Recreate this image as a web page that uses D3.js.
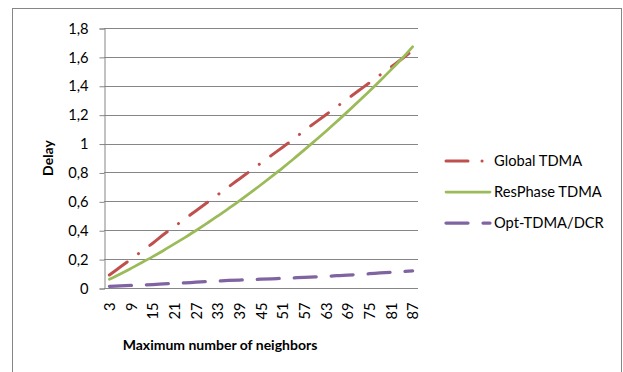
<!DOCTYPE html>
<html>
<head>
<meta charset="utf-8">
<script src="https://cdn.jsdelivr.net/npm/d3@7"></script>
<style>
  html, body { margin: 0; padding: 0; background: #ffffff; }
  svg { display: block; }
  text { font-family: Lato, "Open Sans", "Liberation Sans", sans-serif; fill: #000; }
</style>
</head>
<body>
<svg id="chart" width="623" height="372"></svg>
<script>
// Maximum number of neighbors (x categories)
const neighbors = [3, 6, 9, 12, 15, 18, 21, 24, 27, 30, 33, 36, 39, 42, 45, 48, 51, 54, 57, 60, 63, 66, 69, 72, 75, 78, 81, 84, 87];

// Delay per scheme
const globalTDMA = [0.09, 0.145, 0.20, 0.255, 0.31, 0.37, 0.425, 0.48, 0.535, 0.59, 0.645, 0.70, 0.755, 0.81, 0.865, 0.92, 0.975, 1.03, 1.09, 1.145, 1.20, 1.255, 1.31, 1.365, 1.42, 1.475, 1.53, 1.585, 1.645];
const resPhaseTDMA = [0.06, 0.097, 0.136, 0.176, 0.217, 0.26, 0.305, 0.351, 0.398, 0.447, 0.498, 0.55, 0.603, 0.658, 0.715, 0.773, 0.832, 0.893, 0.956, 1.02, 1.085, 1.152, 1.221, 1.291, 1.362, 1.435, 1.51, 1.587, 1.67];
const optTDMADCR = [0.012, 0.015, 0.018, 0.021, 0.024, 0.028, 0.032, 0.036, 0.040, 0.044, 0.048, 0.052, 0.055, 0.058, 0.061, 0.064, 0.067, 0.070, 0.073, 0.077, 0.081, 0.085, 0.089, 0.094, 0.099, 0.104, 0.109, 0.114, 0.118];

const yTicks = [0, 0.2, 0.4, 0.6, 0.8, 1, 1.2, 1.4, 1.6, 1.8];

const series = [
  { name: "Global TDMA", values: globalTDMA, color: "#C0504D", dash: "22,14,0.1,14", width: 3 },
  { name: "ResPhase TDMA", values: resPhaseTDMA, color: "#9BBB59", dash: null, width: 2.75 },
  { name: "Opt-TDMA/DCR", values: optTDMADCR, color: "#8064A2", dash: "22,15", width: 3.25 }
];

const svg = d3.select("#chart");
const plot = { left: 104, right: 418, top: 28, bottom: 288 };

// Outer chart frame
svg.append("rect")
  .attr("x", 12.5).attr("y", 8.5)
  .attr("width", 609).attr("height", 400)
  .attr("fill", "none").attr("stroke", "#868686").attr("stroke-width", 1);

const x = d3.scalePoint().domain(neighbors).range([plot.left, plot.right]).padding(0.5);
const y = d3.scaleLinear().domain([0, 1.8]).range([plot.bottom, plot.top]);

const fmt = d => String(d).replace(".", ",");

// Horizontal gridlines
svg.append("g")
  .selectAll("line")
  .data(yTicks.filter(d => d > 0))
  .join("line")
  .attr("x1", plot.left).attr("x2", plot.right)
  .attr("y1", d => Math.round(y(d)) + 0.5).attr("y2", d => Math.round(y(d)) + 0.5)
  .attr("stroke", "#868686").attr("stroke-width", 1);

// Y axis
const yAxis = svg.append("g")
  .attr("transform", `translate(${plot.left + 0.5},0.5)`)
  .call(d3.axisLeft(y).tickValues(yTicks).tickFormat(fmt).tickSize(5).tickPadding(11));
yAxis.select(".domain").attr("stroke", "#868686");
yAxis.selectAll(".tick line").attr("stroke", "#868686");
yAxis.selectAll(".tick text")
  .attr("font-family", "Lato, 'Open Sans', sans-serif")
  .attr("font-size", 14.7).attr("fill", "#000");

// X axis (category labels every second value)
const xAxis = svg.append("g")
  .attr("transform", `translate(0,${plot.bottom + 0.5})`)
  .call(d3.axisBottom(x)
    .tickValues(neighbors.filter((d, i) => i % 2 === 0))
    .tickSize(0).tickPadding(0));
xAxis.select(".domain").attr("stroke", "#868686").attr("d", `M${plot.left},0H${plot.right}`);
xAxis.selectAll(".tick text")
  .attr("font-family", "Lato, 'Open Sans', sans-serif")
  .attr("font-size", 14.7).attr("fill", "#000")
  .attr("transform", "rotate(-90)")
  .attr("text-anchor", "end")
  .attr("x", -14).attr("y", 0).attr("dy", "0.35em");

// Series lines
const line = d3.line()
  .x((d, i) => x(neighbors[i]))
  .y(d => y(d))
  .curve(d3.curveMonotoneX);

svg.append("g")
  .selectAll("path")
  .data(series)
  .join("path")
  .attr("d", s => line(s.values))
  .attr("fill", "none")
  .attr("stroke", s => s.color)
  .attr("stroke-width", s => s.width)
  .attr("stroke-dasharray", s => s.dash)
  .attr("stroke-linecap", "round")
  .attr("stroke-linejoin", "round");

// Axis titles
svg.append("text")
  .attr("x", 220).attr("y", 350)
  .attr("text-anchor", "middle")
  .attr("font-size", 14).attr("font-weight", "bold")
  .text("Maximum number of neighbors");

svg.append("text")
  .attr("transform", "translate(53,158) rotate(-90)")
  .attr("text-anchor", "middle")
  .attr("font-size", 14).attr("font-weight", "bold")
  .text("Delay");

// Legend
const legendY = [161, 192, 223];
const legend = svg.append("g")
  .selectAll("g")
  .data(series)
  .join("g")
  .attr("transform", (s, i) => `translate(446,${legendY[i]})`);

legend.append("line")
  .attr("x1", 0).attr("x2", 44).attr("y1", 0).attr("y2", 0)
  .attr("stroke", s => s.color)
  .attr("stroke-width", s => s.width)
  .attr("stroke-linecap", "round")
  .attr("stroke-dasharray", s => s.dash);

legend.append("text")
  .attr("x", 48).attr("y", 0).attr("dy", "0.35em")
  .attr("font-size", 14.7)
  .text(s => s.name);
</script>
</body>
</html>
